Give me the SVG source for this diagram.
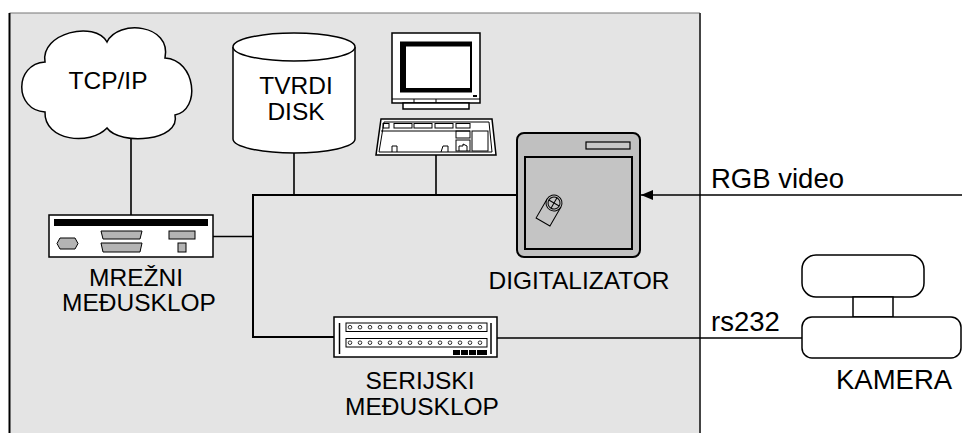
<svg xmlns="http://www.w3.org/2000/svg" width="962" height="433" viewBox="0 0 962 433">
  <defs>
    <marker id="arrow" viewBox="0 0 12 10" refX="12" refY="5" markerWidth="12" markerHeight="10" markerUnits="userSpaceOnUse" orient="auto">
      <path d="M0,0 L12,5 L0,10 Z" fill="#000"/>
    </marker>
  </defs>
  <style>
    text { font-family: "Liberation Sans", Arial, sans-serif; fill: #000; }
    .lbl { font-size: 24.5px; text-anchor: middle; }
    .big { font-size: 27.5px; }
    .wire { fill: none; stroke: #000; stroke-width: 1.6; }
    .bus { fill: none; stroke: #000; stroke-width: 2; }
    .box { fill: #fff; stroke: #000; stroke-width: 1.5; }
    .part { fill: #b4b4b4; stroke: #000; stroke-width: 1; }
    .thin { fill: none; stroke: #000; stroke-width: 1; }
  </style>

  <!-- system enclosure -->
  <rect x="9.5" y="13" width="691" height="430" fill="#e4e4e4"/>
  <line x1="9.5" y1="13" x2="700" y2="13" stroke="#777" stroke-width="1.2"/>
  <line x1="9.5" y1="13" x2="9.5" y2="433" stroke="#000" stroke-width="2"/>
  <line x1="700" y1="13" x2="700" y2="433" stroke="#444" stroke-width="2"/>

  <!-- connectors -->
  <g id="connectors">
    <line class="wire" x1="131" y1="136" x2="131" y2="215"/>
    <line class="wire" x1="213" y1="236.5" x2="253" y2="236.5"/>
    <polyline class="bus" points="517,195 253,195 253,337 334,337"/>
    <line class="wire" x1="294" y1="153" x2="294" y2="195"/>
    <line class="wire" x1="436" y1="155" x2="436" y2="195"/>
    <line class="wire" x1="497" y1="338" x2="802" y2="338"/>
    <line class="wire" x1="962" y1="195" x2="641" y2="195" marker-end="url(#arrow)"/>
    <text class="big" x="711" y="188">RGB video</text>
    <text class="big" x="711" y="330.5">rs232</text>
  </g>

  <!-- internet cloud -->
  <g id="tcpip">
    <path class="box" d="M45,62 C40,33 95,20 107,42 C118,19 172,24 165,58 C196,60 201,110 175,115 C181,141 120,146 107,128 C90,146 44,141 45,112 C14,110 14,64 45,62 Z"/>
    <text class="lbl" x="108" y="89">TCP/IP</text>
  </g>

  <!-- network interface -->
  <g id="mrezni">
    <rect class="box" x="49" y="215" width="164" height="42"/>
    <rect x="54" y="219" width="154" height="7" fill="#000"/>
    <path class="part" d="M60,238 L75,238 L78,243.5 L75,249 L60,249 L57,243.5 Z"/>
    <path class="part" d="M101,231 L142,231 L140,239 L103,239 Z"/>
    <path class="part" d="M101,243 L142,243 L140,252 L103,252 Z"/>
    <rect class="part" x="169" y="231" width="26" height="8"/>
    <rect class="part" x="178" y="243" width="8" height="9"/>
    <text class="lbl" x="136" y="286">MREŽNI</text>
    <text class="lbl" x="139" y="311">MEĐUSKLOP</text>
  </g>

  <!-- hard disk -->
  <g id="disk">
    <path class="box" d="M233,47 L233,139 A61,14 0 0 0 355,139 L355,47"/>
    <ellipse class="box" cx="294" cy="47" rx="61" ry="14"/>
    <text class="lbl" x="296" y="94">TVRDI</text>
    <text class="lbl" x="296" y="120">DISK</text>
  </g>

  <!-- workstation -->
  <g id="racunalo">
    <rect class="box" x="392" y="33" width="88" height="70"/>
    <line class="thin" x1="392" y1="99" x2="480" y2="99"/>
    <line class="thin" x1="414" y1="99" x2="414" y2="103"/>
    <line class="thin" x1="436" y1="99" x2="436" y2="103"/>
    <rect x="400" y="41.5" width="72" height="51" fill="#000"/>
    <rect x="406" y="46.5" width="64" height="41.5" fill="#fff"/>
    <rect x="473" y="95" width="4" height="2" fill="#000"/>
    <rect class="box" x="403" y="103" width="66" height="6"/>
    <!-- keyboard -->
    <path class="box" d="M381,119 L492,119 L496,155 L376,155 Z"/>
    <path class="thin" d="M384,122 L489,122 L492,152 L379,152 Z"/>
    <g class="thin">
      <rect x="383" y="123.5" width="6" height="4.5"/>
      <rect x="394" y="123.5" width="18" height="4.5"/>
      <rect x="414" y="123.5" width="18" height="4.5"/>
      <rect x="435" y="123.5" width="18" height="4.5"/>
      <rect x="456" y="123.5" width="14" height="4.5"/>
      <line x1="381" y1="131" x2="470" y2="131"/>
      <rect x="456" y="131" width="14" height="7"/>
      <rect x="456" y="140" width="14" height="11"/>
      <rect x="472" y="131" width="16" height="20"/>
      <path d="M392,152 L392,146 L397,146 L397,152"/>
      <path d="M441,152 L443,146 L448,146 L448,152"/>
      <path d="M459,151 L459,146 L463,146 L463,144 L467,146 L467,151"/>
    </g>
  </g>

  <!-- frame grabber -->
  <g id="digitalizator">
    <rect x="517" y="133" width="123" height="124" rx="7" fill="#c0c0c0" stroke="#000" stroke-width="2"/>
    <rect x="525" y="157" width="107" height="92" fill="#c4c4c4" stroke="#000" stroke-width="2"/>
    <rect x="586" y="142" width="44" height="7" fill="#c8c8c8" stroke="#000" stroke-width="1.2"/>
    <g transform="translate(554,203) rotate(30)" class="thin">
      <path d="M-8,0 L-8,22 L8,22 L8,0"/>
      <circle cx="0" cy="0" r="8" fill="#c4c4c4"/>
      <circle cx="0" cy="0" r="6"/>
      <line x1="-6" y1="0" x2="6" y2="0"/>
      <line x1="0" y1="-6" x2="0" y2="6"/>
    </g>
    <text class="lbl" x="579" y="289">DIGITALIZATOR</text>
  </g>

  <!-- serial interface -->
  <g id="serijski">
    <rect class="box" x="334" y="317" width="163" height="40"/>
    <line x1="339.5" y1="323" x2="339.5" y2="354" stroke="#000" stroke-width="1.5"/>
    <line x1="491" y1="323" x2="491" y2="354" stroke="#000" stroke-width="1.5"/>
    <rect x="346" y="323" width="141" height="8.5" fill="#fff" stroke="#000" stroke-width="1"/>
    <rect x="346" y="338.5" width="141" height="8.5" fill="#fff" stroke="#000" stroke-width="1"/>
    <g fill="#fff" stroke="#000" stroke-width="0.8">
      <circle cx="350" cy="327.2" r="1.8"/><circle cx="360" cy="327.2" r="1.8"/><circle cx="370" cy="327.2" r="1.8"/><circle cx="380" cy="327.2" r="1.8"/><circle cx="390" cy="327.2" r="1.8"/><circle cx="400" cy="327.2" r="1.8"/><circle cx="410" cy="327.2" r="1.8"/><circle cx="420" cy="327.2" r="1.8"/><circle cx="430" cy="327.2" r="1.8"/><circle cx="440" cy="327.2" r="1.8"/><circle cx="450" cy="327.2" r="1.8"/><circle cx="460" cy="327.2" r="1.8"/><circle cx="470" cy="327.2" r="1.8"/><circle cx="480" cy="327.2" r="1.8"/>
      <circle cx="350" cy="342.7" r="1.8"/><circle cx="360" cy="342.7" r="1.8"/><circle cx="370" cy="342.7" r="1.8"/><circle cx="380" cy="342.7" r="1.8"/><circle cx="390" cy="342.7" r="1.8"/><circle cx="400" cy="342.7" r="1.8"/><circle cx="410" cy="342.7" r="1.8"/><circle cx="420" cy="342.7" r="1.8"/><circle cx="430" cy="342.7" r="1.8"/><circle cx="440" cy="342.7" r="1.8"/><circle cx="450" cy="342.7" r="1.8"/><circle cx="460" cy="342.7" r="1.8"/><circle cx="470" cy="342.7" r="1.8"/><circle cx="480" cy="342.7" r="1.8"/>
    </g>
    <g fill="#000">
      <rect x="453" y="350" width="7" height="5"/>
      <rect x="461" y="350" width="7" height="5"/>
      <rect x="469" y="350" width="7" height="5"/>
      <rect x="477" y="350" width="10" height="5"/>
    </g>
    <text class="lbl" x="420" y="389">SERIJSKI</text>
    <text class="lbl" x="422" y="415">MEĐUSKLOP</text>
  </g>

  <!-- camera -->
  <g id="kamera">
    <rect class="box" x="802" y="255" width="122" height="42" rx="14"/>
    <rect class="box" x="853" y="297" width="40" height="20"/>
    <rect class="box" x="802" y="317" width="159" height="41" rx="10"/>
    <text class="big" x="836" y="389">KAMERA</text>
  </g>
</svg>
